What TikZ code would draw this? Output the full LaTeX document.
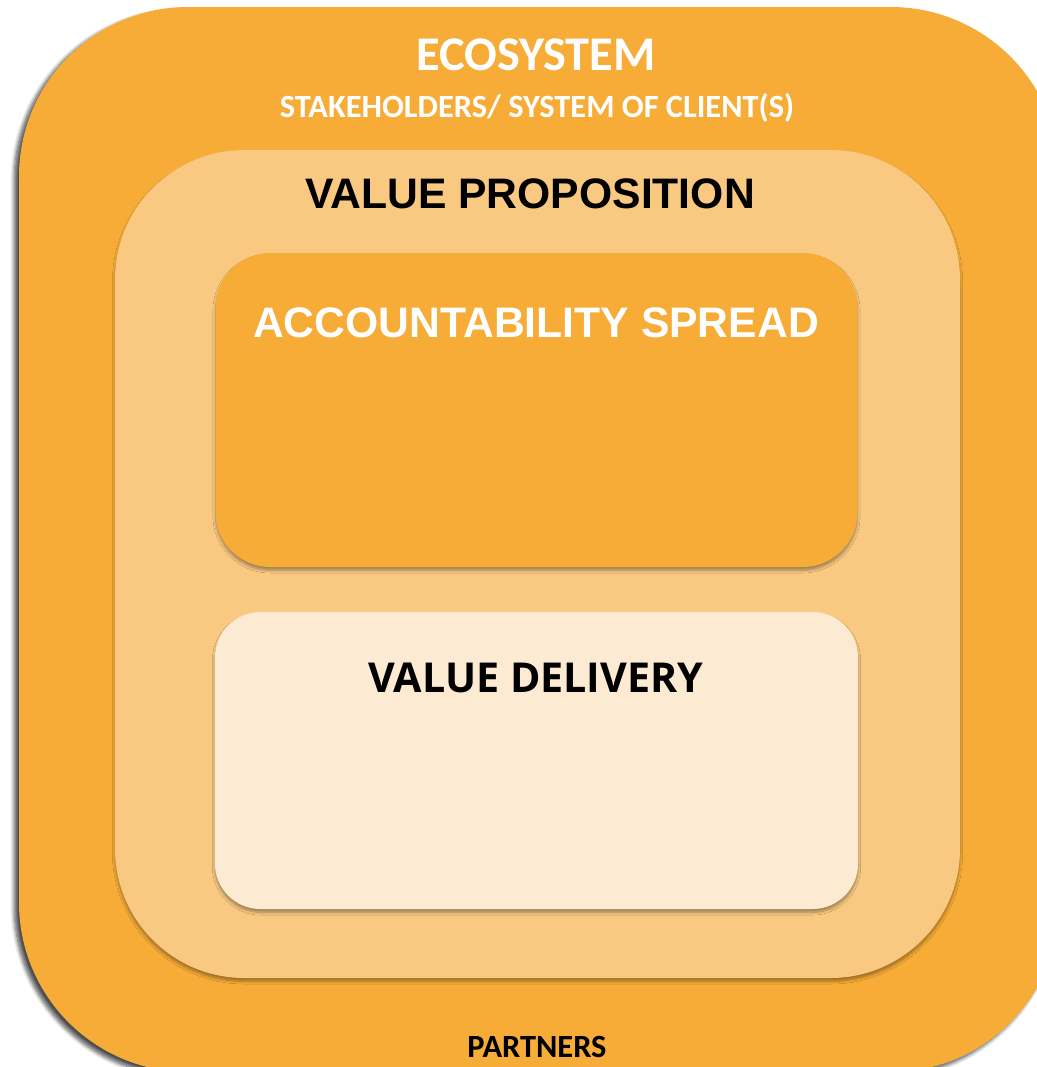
\documentclass[tikz,border=0pt]{standalone}
\usepackage{fontspec}
\setmainfont{Carlito}
\newfontfamily\arialfont{Liberation Sans}
\newfontfamily\opensansfont{Open Sans}
\usetikzlibrary{shadows.blur}
\definecolor{ecoorange}{HTML}{F6AC37}
\definecolor{propcol}{HTML}{F9C982}
\definecolor{delivcol}{HTML}{FCEBD2}
\definecolor{shadowbrown}{HTML}{7A5418}
\tikzset{
  panel/.style={inner sep=0pt, outer sep=0pt, draw=none},
  outerpanel/.style={panel, fill=ecoorange, rounded corners=127pt,
    blur shadow={shadow xshift=-3.5pt, shadow yshift=-3pt, shadow blur steps=8, shadow blur radius=3pt, shadow opacity=70}},
  innerpanel/.style={panel, blur shadow={shadow xshift=0pt, shadow yshift=-2.5pt, shadow blur steps=6, shadow blur radius=2pt, shadow opacity=35, fill=shadowbrown}},
  lbl/.style={inner sep=0pt, anchor=base}
}
\begin{document}
\begin{tikzpicture}[x=0.75pt, y=-0.75pt]
\useasboundingbox (0,0) rectangle (1037,1067);
\clip (0,0) rectangle (1037,1067);
\node[outerpanel, minimum width=780.75pt, minimum height=798.75pt] (eco) at (539.5,539.5) {};
\node[innerpanel, fill=propcol, rounded corners=97pt, minimum width=633.75pt, minimum height=621pt] (prop) at (537.5,564) {};
\node[innerpanel, fill=ecoorange, rounded corners=41pt, minimum width=481.5pt, minimum height=235.5pt] (acc) at (536.5,410) {};
\node[innerpanel, fill=delivcol, rounded corners=34pt, minimum width=482.25pt, minimum height=222.75pt] (deliv) at (536.5,760.5) {};
\node[lbl, text=white, font=\bfseries\fontsize{36.3}{40}\selectfont] (ecot) at (536,70) {ECOSYSTEM};
\node[lbl, text=white, font=\bfseries\fontsize{24.3}{26}\selectfont] (stake) at (537,117) {STAKEHOLDERS/ SYSTEM OF CLIENT(S)};
\node[lbl, text=black, font=\arialfont\bfseries\fontsize{32}{34}\selectfont] (propt) at (530,208) {VALUE PROPOSITION};
\node[lbl, text=white, font=\arialfont\bfseries\fontsize{32}{34}\selectfont] (acct) at (536,337) {ACCOUNTABILITY SPREAD};
\node[lbl, text=black, font=\opensansfont\bfseries\fontsize{30.9}{32}\selectfont] (delivt) at (536,692) {VALUE DELIVERY};
\node[lbl, text=black, font=\bfseries\fontsize{24.3}{26}\selectfont] (part) at (537,1057) {PARTNERS};
\end{tikzpicture}
\end{document}
